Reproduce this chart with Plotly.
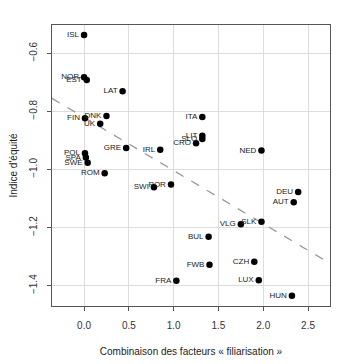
import plotly.graph_objects as go

countries = ["ISL", "NOR", "EST", "LAT", "FIN", "DNK", "UK", "GRE", "IRL", "POL", "SPA", "SWE", "ROM",
             "ITA", "LIT", "SLO", "CRO", "NED", "SWI", "POR", "FRA", "DEU", "AUT", "SLK", "VLG",
             "BUL", "FWB", "CZH", "LUX", "HUN"]
filiarisation = [0.00, 0.00, 0.03, 0.43, 0.01, 0.25, 0.18, 0.47, 0.85, 0.01, 0.02, 0.04, 0.23,
                 1.32, 1.32, 1.32, 1.25, 1.98, 0.78, 0.97, 1.03, 2.39, 2.34, 1.98, 1.75,
                 1.39, 1.40, 1.90, 1.95, 2.32]
equite = [-0.537, -0.683, -0.692, -0.731, -0.824, -0.816, -0.843, -0.926, -0.932, -0.944, -0.959, -0.977, -1.013,
          -0.820, -0.884, -0.895, -0.910, -0.935, -1.061, -1.052, -1.383, -1.078, -1.113, -1.180, -1.189,
          -1.232, -1.328, -1.318, -1.381, -1.435]

fit_intercept = -0.821
fit_slope = -0.183
x_range = [-0.358, 2.745]
y_range = [-1.470, -0.503]

x_ticks = [0.0, 0.5, 1.0, 1.5, 2.0, 2.5]
x_ticklabels = ["0.0", "0.5", "1.0", "1.5", "2.0", "2.5"]
y_ticks = [-0.6, -0.8, -1.0, -1.2, -1.4]
y_ticklabels = ["\u22120.6", "\u22120.8", "\u22121.0", "\u22121.2", "\u22121.4"]

font = "Liberation Sans, Arial, sans-serif"

fig = go.Figure()
fig.add_trace(go.Scatter(
    x=x_range,
    y=[fit_intercept + fit_slope * v for v in x_range],
    mode="lines",
    line=dict(color="#9a9a9a", width=1.3, dash="dash"),
    hoverinfo="skip",
    showlegend=False,
))
fig.add_trace(go.Scatter(
    x=filiarisation, y=equite, text=countries,
    mode="markers+text",
    textposition="middle left",
    textfont=dict(family=font, size=8, color="#222222"),
    marker=dict(color="black", size=6.5),
    cliponaxis=False,
    showlegend=False,
))

axis_common = dict(
    showgrid=True, gridcolor="#dddddd", gridwidth=1,
    showline=True, linecolor="#555555", linewidth=1, mirror=True,
    zeroline=False, automargin=False,
    ticks="outside", ticklen=4, tickcolor="#555555",
    tickfont=dict(family=font, size=10, color="#333333"),
)
fig.update_xaxes(range=x_range, tickvals=x_ticks, ticktext=x_ticklabels,
                 ticklabelstandoff=6,
                 title=dict(text="Combinaison des facteurs « filiarisation »",
                            font=dict(family=font, size=10, color="#222222"), standoff=17),
                 **axis_common)
fig.update_yaxes(range=y_range, tickvals=y_ticks, ticktext=y_ticklabels, tickangle=-90,
                 ticklabelstandoff=6,
                 title=dict(text="Indice d'équité",
                            font=dict(family=font, size=10, color="#222222"), standoff=14),
                 **axis_common)
fig.update_layout(
    width=348, height=356,
    margin=dict(l=44, r=26, t=17, b=58),
    paper_bgcolor="white", plot_bgcolor="white",
)
fig.write_html("out.html")
